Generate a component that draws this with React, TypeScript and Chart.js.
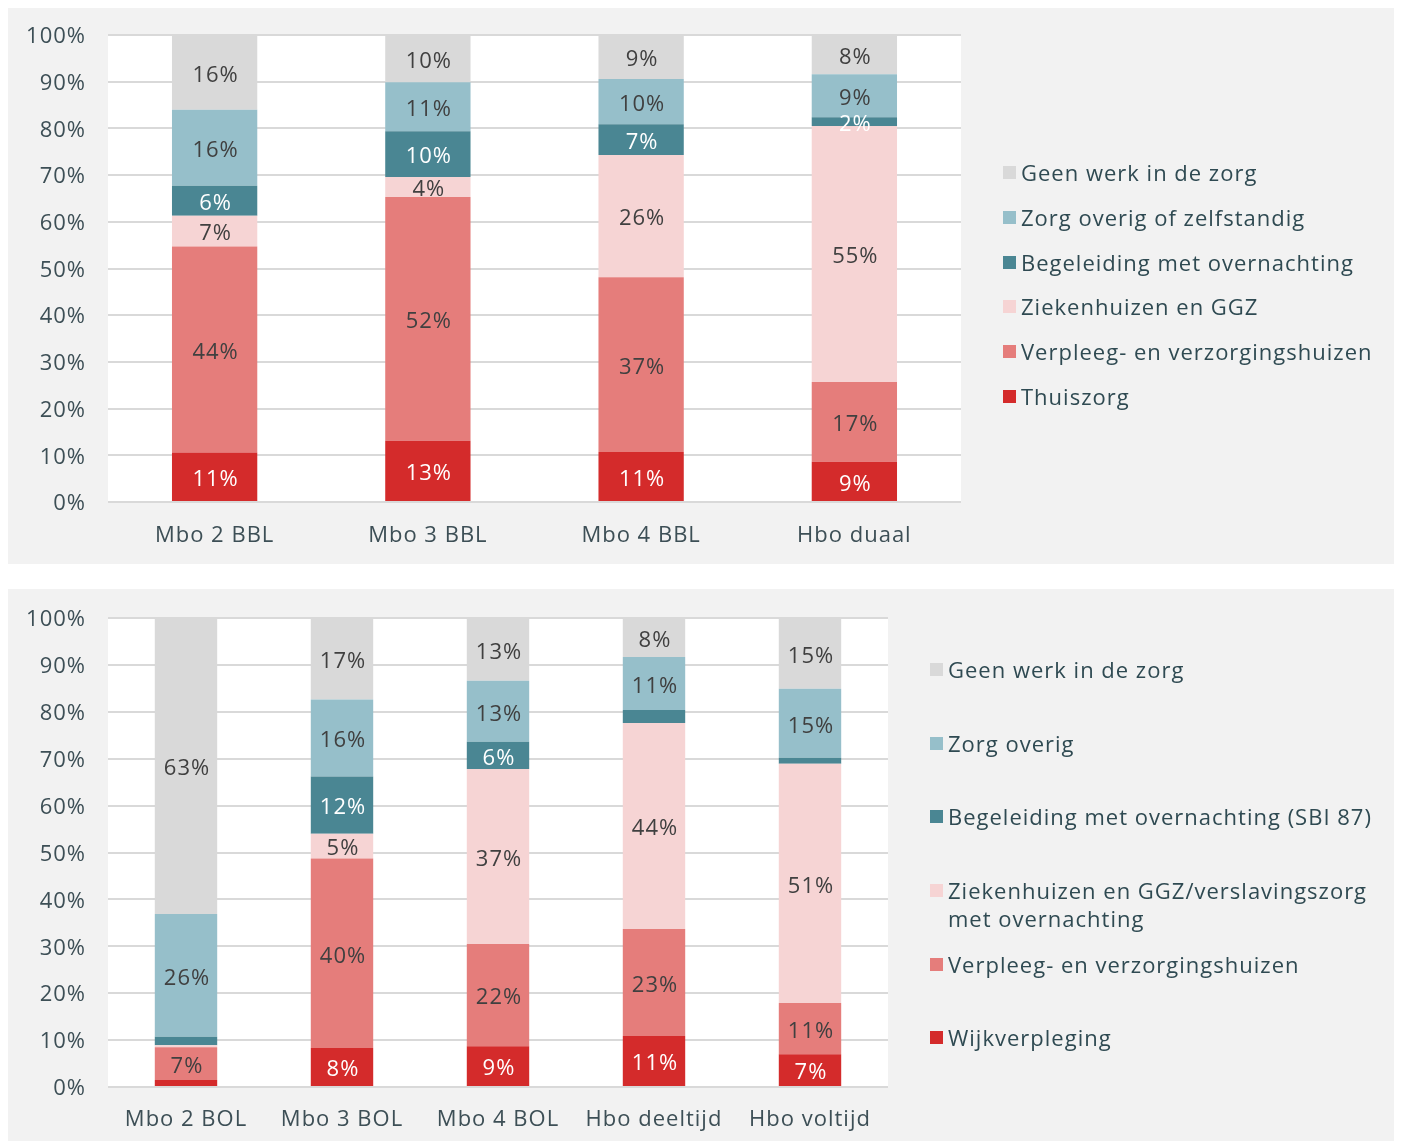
import React, { useEffect, useRef } from "react";
import { Chart, registerables } from "chart.js";

Chart.register(...registerables);

// ---------- Data: top chart (BBL / duaal) ----------
const topCategories = ["Mbo 2 BBL", "Mbo 3 BBL", "Mbo 4 BBL", "Hbo duaal"];
const topThuiszorg = [10.6, 13.1, 10.7, 8.6];
const topVerpleeg = [44.1, 52.2, 37.4, 17.1];
const topZiekenhuizen = [6.6, 4.3, 26.2, 54.8];
const topBegeleiding = [6.4, 9.8, 6.6, 1.9];
const topZorgOverig = [16.3, 10.5, 9.7, 9.2];
const topGeenWerk = [16.0, 10.1, 9.4, 8.4];
const topLegend = [
  "Geen werk in de zorg",
  "Zorg overig of zelfstandig",
  "Begeleiding met overnachting",
  "Ziekenhuizen en GGZ",
  "Verpleeg- en verzorgingshuizen",
  "Thuiszorg",
];

// ---------- Data: bottom chart (BOL / deeltijd / voltijd) ----------
const bottomCategories = ["Mbo 2 BOL", "Mbo 3 BOL", "Mbo 4 BOL", "Hbo deeltijd", "Hbo voltijd"];
const bottomWijkverpleging = [1.5, 8.3, 8.7, 10.9, 7.0];
const bottomVerpleeg = [7.0, 40.4, 21.8, 22.8, 10.9];
const bottomZiekenhuizen = [0.4, 5.3, 37.3, 43.9, 51.0];
const bottomBegeleiding = [1.8, 12.2, 5.8, 2.8, 1.3];
const bottomZorgOverig = [26.2, 16.4, 13.0, 11.3, 14.7];
const bottomGeenWerk = [63.1, 17.4, 13.4, 8.3, 15.1];
const bottomLegend = [
  "Geen werk in de zorg",
  "Zorg overig",
  "Begeleiding met overnachting (SBI 87)",
  "Ziekenhuizen en GGZ/verslavingszorg\nmet overnachting",
  "Verpleeg- en verzorgingshuizen",
  "Wijkverpleging",
];

const yTicks = [0, 10, 20, 30, 40, 50, 60, 70, 80, 90, 100];

// ---------- Styles ----------
const FONT = "'Open Sans', Lato, sans-serif";
const SPACING = "1px";
const C_GEEN = "#D9D9D9";
const C_ZORG = "#96BFCA";
const C_BEGEL = "#4A8693";
const C_ZIEK = "#F6D4D4";
const C_VERPL = "#E57D7B";
const C_THUIS = "#D42B2B";
const LEGEND_COLORS = [C_GEEN, C_ZORG, C_BEGEL, C_ZIEK, C_VERPL, C_THUIS];
const DARK = "#404040";
const AXIS_TEXT = "#3D4F56";

const plotBgPlugin = {
  id: "plotBg",
  beforeDraw(chart: any) {
    const { ctx, chartArea } = chart;
    ctx.letterSpacing = SPACING;
    ctx.save();
    ctx.fillStyle = "#FFFFFF";
    ctx.fillRect(chartArea.left, chartArea.top, chartArea.right - chartArea.left, chartArea.bottom - chartArea.top);
    ctx.restore();
  },
};

const segLabelPlugin = {
  id: "segLabels",
  afterDatasetsDraw(chart: any, _args: any, opts: any) {
    const ctx = chart.ctx;
    ctx.save();
    ctx.font = `22px ${FONT}`;
    ctx.textAlign = "center";
    ctx.textBaseline = "middle";
    chart.data.datasets.forEach((ds: any, di: number) => {
      const meta = chart.getDatasetMeta(di);
      meta.data.forEach((el: any, i: number) => {
        const v = ds.data[i];
        if (v < (opts.min ?? 0)) return;
        const p = el.getProps(["x", "y", "base"], true);
        ctx.fillStyle = ds.labelColor;
        ctx.fillText(Math.round(v) + "%", p.x + 1, (p.y + p.base) / 2 + 3);
      });
    });
    ctx.restore();
  },
};

function makeDatasets(series: { label: string; data: number[]; color: string; labelColor: string }[]) {
  return series.map((s) => ({
    label: s.label,
    data: s.data,
    backgroundColor: s.color,
    borderWidth: 0,
    barPercentage: 0.4,
    categoryPercentage: 1,
    labelColor: s.labelColor,
  }));
}

function StackChart(props: {
  width: number;
  height: number;
  categories: string[];
  datasets: any[];
  right: number;
  top: number;
  bottomH: number;
  xPad: number;
  minLabel: number;
}) {
  const ref = useRef<HTMLCanvasElement | null>(null);
  useEffect(() => {
    if (!ref.current) return;
    const chart = new Chart(ref.current, {
      type: "bar",
      data: { labels: props.categories, datasets: props.datasets },
      options: {
        responsive: false,
        animation: false,
        layout: { padding: { top: props.top, right: props.right, left: 0, bottom: 0 } },
        plugins: {
          legend: { display: false },
          tooltip: { enabled: false },
          segLabels: { min: props.minLabel },
        } as any,
        scales: {
          x: {
            stacked: true,
            grid: { display: false, drawTicks: false },
            border: { display: false },
            ticks: { font: { family: FONT, size: 22 }, color: AXIS_TEXT, padding: props.xPad },
            afterFit: (scale: any) => {
              scale.height = props.bottomH;
            },
          },
          y: {
            stacked: true,
            min: 0,
            max: 100,
            afterBuildTicks: (scale: any) => {
              scale.ticks = yTicks.map((v) => ({ value: v }));
            },
            ticks: {
              font: { family: FONT, size: 22 },
              color: AXIS_TEXT,
              padding: 0,
              labelOffset: 2,
              callback: (v: any) => v + "%",
            },
            grid: { color: "#D9D9D9", lineWidth: 2, drawTicks: true, tickLength: 22, tickColor: "rgba(0,0,0,0)" },
            border: { display: false },
            afterFit: (scale: any) => {
              scale.width = 101;
            },
          },
        },
      },
      plugins: [plotBgPlugin, segLabelPlugin],
    });
    return () => chart.destroy();
  }, []);
  return <canvas ref={ref} width={props.width} height={props.height} style={{ display: "block" }} />;
}

function Legend(props: { items: string[]; left: number; centers: number[]; lineHeight: number }) {
  return (
    <>
      {props.items.map((t, i) => (
        <div
          key={i}
          style={{
            position: "absolute",
            left: props.left,
            top: props.centers[i] - props.lineHeight / 2,
            display: "flex",
            alignItems: "flex-start",
            fontFamily: FONT,
            fontSize: 22,
            letterSpacing: SPACING,
            lineHeight: props.lineHeight + "px",
            color: "#2F4A52",
            whiteSpace: "pre",
          }}
        >
          <span
            style={{
              display: "inline-block",
              width: 13,
              height: 13,
              background: LEGEND_COLORS[i],
              marginTop: (props.lineHeight - 13) / 2,
              marginRight: 5,
              flex: "0 0 auto",
            }}
          />
          <span>{t}</span>
        </div>
      ))}
    </>
  );
}

export default function App() {
  const topDatasets = makeDatasets([
    { label: "Thuiszorg", data: topThuiszorg, color: C_THUIS, labelColor: "#FFFFFF" },
    { label: "Verpleeg- en verzorgingshuizen", data: topVerpleeg, color: C_VERPL, labelColor: DARK },
    { label: "Ziekenhuizen en GGZ", data: topZiekenhuizen, color: C_ZIEK, labelColor: DARK },
    { label: "Begeleiding met overnachting", data: topBegeleiding, color: C_BEGEL, labelColor: "#FFFFFF" },
    { label: "Zorg overig of zelfstandig", data: topZorgOverig, color: C_ZORG, labelColor: DARK },
    { label: "Geen werk in de zorg", data: topGeenWerk, color: C_GEEN, labelColor: DARK },
  ]);
  const bottomDatasets = makeDatasets([
    { label: "Wijkverpleging", data: bottomWijkverpleging, color: C_THUIS, labelColor: "#FFFFFF" },
    { label: "Verpleeg- en verzorgingshuizen", data: bottomVerpleeg, color: C_VERPL, labelColor: DARK },
    { label: "Ziekenhuizen en GGZ/verslavingszorg met overnachting", data: bottomZiekenhuizen, color: C_ZIEK, labelColor: DARK },
    { label: "Begeleiding met overnachting (SBI 87)", data: bottomBegeleiding, color: C_BEGEL, labelColor: "#FFFFFF" },
    { label: "Zorg overig", data: bottomZorgOverig, color: C_ZORG, labelColor: DARK },
    { label: "Geen werk in de zorg", data: bottomGeenWerk, color: C_GEEN, labelColor: DARK },
  ]);

  return (
    <div style={{ position: "relative", left: -1, top: -2, width: 1390 }}>
      <div style={{ position: "relative", width: 1390, height: 558, background: "#F2F2F2" }}>
        <StackChart
          width={1390}
          height={558}
          categories={topCategories}
          datasets={topDatasets}
          right={436}
          top={29}
          bottomH={62}
          xPad={21}
          minLabel={0}
        />
        <Legend items={topLegend} left={996} centers={[166, 211, 256, 300, 345, 390]} lineHeight={28} />
      </div>
      <div style={{ height: 25 }} />
      <div style={{ position: "relative", width: 1390, height: 552, background: "#F2F2F2" }}>
        <StackChart
          width={1390}
          height={552}
          categories={bottomCategories}
          datasets={bottomDatasets}
          right={509}
          top={29}
          bottomH={54}
          xPad={20}
          minLabel={4}
        />
        <Legend items={bottomLegend} left={923} centers={[80, 154, 227, 301, 375, 448]} lineHeight={28} />
      </div>
    </div>
  );
}
